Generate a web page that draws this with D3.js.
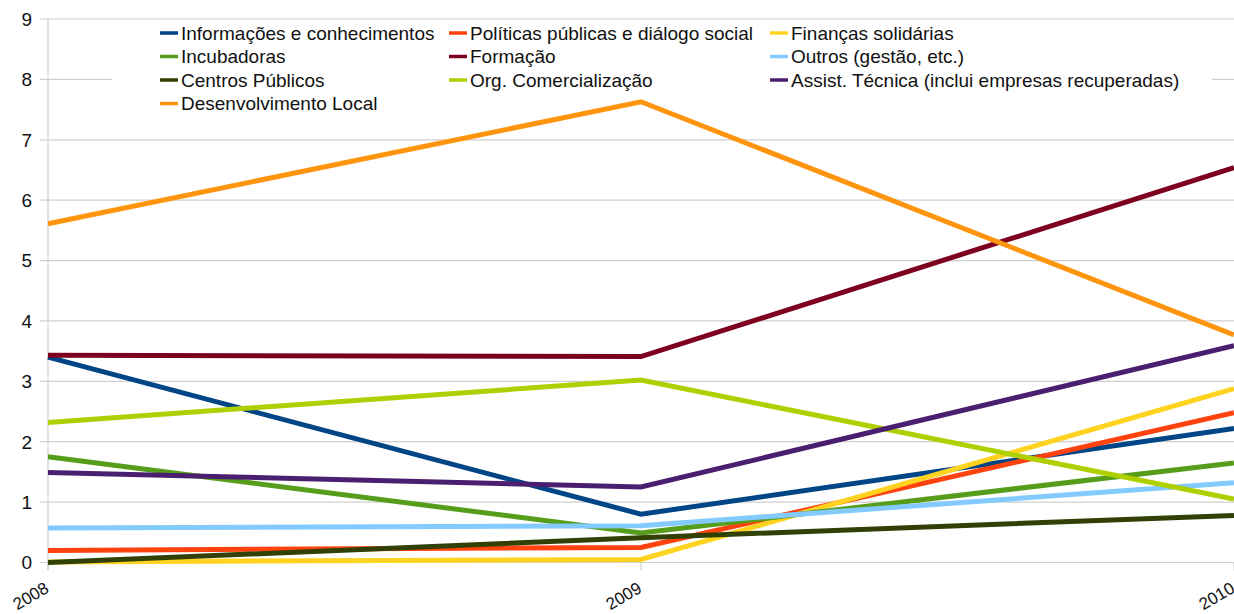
<!DOCTYPE html>
<html>
<head>
<meta charset="utf-8">
<script src="https://cdn.jsdelivr.net/npm/d3@7/dist/d3.min.js"></script>
<style>
  html, body { margin: 0; padding: 0; background: #fff; }
  svg { display: block; font-family: "Liberation Sans", Arial, sans-serif; }
</style>
</head>
<body>
<svg id="chart" width="1234" height="614"></svg>
<script>
// Years on the category axis
const years = ["2008", "2009", "2010"];

// Series names and values per year
const seriesNames = [
  "Informações e conhecimentos",
  "Políticas públicas e diálogo social",
  "Finanças solidárias",
  "Incubadoras",
  "Formação",
  "Outros (gestão, etc.)",
  "Centros Públicos",
  "Org. Comercialização",
  "Assist. Técnica (inclui empresas recuperadas)",
  "Desenvolvimento Local"
];
const informacoes = [3.40, 0.80, 2.22];
const politicas = [0.20, 0.25, 2.48];
const financas = [0.01, 0.05, 2.88];
const incubadoras = [1.75, 0.49, 1.65];
const formacao = [3.43, 3.41, 6.54];
const outros = [0.57, 0.61, 1.32];
const centros = [0.00, 0.41, 0.78];
const orgComercializacao = [2.32, 3.02, 1.05];
const assistTecnica = [1.49, 1.25, 3.59];
const desenvolvimento = [5.61, 7.63, 3.77];

const seriesColors = ["#004586", "#ff420e", "#ffd320", "#579d1c", "#7e0021",
                      "#83caff", "#314004", "#aecf00", "#4b1f6f", "#ff950e"];
const yTicks = [0, 1, 2, 3, 4, 5, 6, 7, 8, 9];

const seriesValues = [informacoes, politicas, financas, incubadoras, formacao,
                      outros, centros, orgComercializacao, assistTecnica, desenvolvimento];
const series = seriesNames.map((name, i) => ({ name, values: seriesValues[i], color: seriesColors[i] }));

const svg = d3.select("#chart");
const margin = { left: 48, right: 0, top: 19, bottom: 51.5 };
const W = 1234, H = 614;

const x = d3.scalePoint().domain(years).range([margin.left, W - margin.right]);
const y = d3.scaleLinear().domain([0, 9]).range([H - margin.bottom, margin.top]);

const gridColor = "#cfcfcf";

// Horizontal gridlines with short ticks to the left
svg.append("g")
  .selectAll("line")
  .data(yTicks)
  .join("line")
  .attr("x1", margin.left - 8)
  .attr("x2", W)
  .attr("y1", d => y(d))
  .attr("y2", d => y(d))
  .attr("stroke", gridColor)
  .attr("stroke-width", 1.2);

// Vertical axis line
svg.append("line")
  .attr("x1", margin.left).attr("x2", margin.left)
  .attr("y1", y(9)).attr("y2", y(0) + 8)
  .attr("stroke", gridColor).attr("stroke-width", 1.2);

// Category ticks below the baseline
svg.append("g")
  .selectAll("line")
  .data(years)
  .join("line")
  .attr("x1", d => x(d)).attr("x2", d => x(d))
  .attr("y1", y(0)).attr("y2", y(0) + 8)
  .attr("stroke", gridColor).attr("stroke-width", 1.2);

// Y axis labels
svg.append("g")
  .selectAll("text")
  .data(yTicks)
  .join("text")
  .attr("x", 32)
  .attr("y", d => y(d))
  .attr("dy", "0.36em")
  .attr("text-anchor", "end")
  .attr("font-size", 19)
  .attr("fill", "#111")
  .text(d => d);

// Rotated year labels (the last one runs past the right edge)
svg.append("g")
  .selectAll("text")
  .data(years)
  .join("text")
  .attr("transform", d => `translate(${x(d) + 2},${y(0) + 29}) rotate(-30)`)
  .attr("text-anchor", "end")
  .attr("font-size", 17)
  .attr("fill", "#111")
  .text(d => d);

// Legend box (white background hides gridlines behind it)
const legendBox = { x: 112, y: 21, w: 1100, h: 97 };
svg.append("rect")
  .attr("x", legendBox.x).attr("y", legendBox.y)
  .attr("width", legendBox.w).attr("height", legendBox.h)
  .attr("fill", "#fff");

// Data lines
const line = d3.line()
  .x((d, i) => x(years[i]))
  .y(d => y(d));

svg.append("g")
  .selectAll("path")
  .data(series)
  .join("path")
  .attr("d", d => line(d.values))
  .attr("fill", "none")
  .attr("stroke", d => d.color)
  .attr("stroke-width", 5)
  .attr("stroke-linejoin", "miter");

// Legend entries, three columns
const colX = [160, 449, 770];
const rowY = [33, 56.5, 80, 103.5];
const legend = svg.append("g")
  .selectAll("g")
  .data(series)
  .join("g")
  .attr("transform", (d, i) => `translate(${colX[i % 3]},${rowY[Math.floor(i / 3)]})`);
legend.append("line")
  .attr("x1", 0).attr("x2", 18)
  .attr("y1", 0).attr("y2", 0)
  .attr("stroke", d => d.color)
  .attr("stroke-width", 3.5);
legend.append("text")
  .attr("x", 21)
  .attr("y", 0)
  .attr("dy", "0.36em")
  .attr("font-size", 19)
  .attr("fill", "#111")
  .text(d => d.name);
</script>
</body>
</html>
